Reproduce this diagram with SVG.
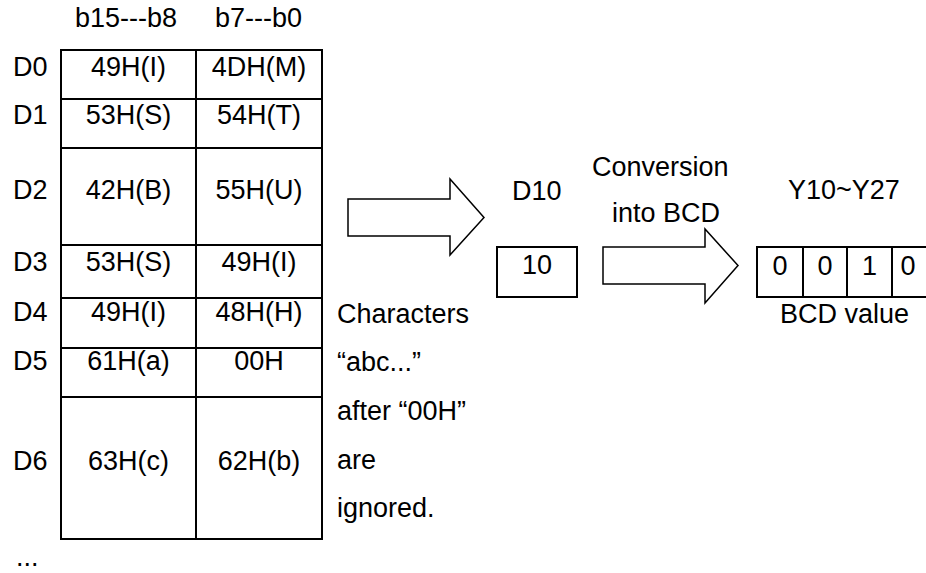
<svg xmlns="http://www.w3.org/2000/svg" width="926" height="573" viewBox="0 0 926 573">
<style>
text{font-family:"Liberation Sans",Arial,sans-serif;font-size:27px;fill:#000}
.c{text-anchor:middle}
.ln{stroke:#000;stroke-width:2;fill:none}
.ar{stroke:#000;stroke-width:1.5;fill:#fff;stroke-linejoin:miter}
</style>
<rect width="926" height="573" fill="#fff"/>
<g id="headers">
<text x="75" y="27">b15---b8</text>
<text x="215" y="27">b7---b0</text>
</g>
<g id="table">
<rect class="ln" x="61" y="50" width="261" height="489"/>
<path class="ln" d="M196 50V539M61 99H322M61 148H322M61 245H322M61 298H322M61 348H322M61 397H322"/>
<text x="13" y="76">D0</text>
<text x="13" y="124">D1</text>
<text x="13" y="199">D2</text>
<text x="13" y="271">D3</text>
<text x="13" y="321">D4</text>
<text x="13" y="370">D5</text>
<text x="13" y="470">D6</text>
<text class="c" x="128.5" y="76">49H(I)</text>
<text class="c" x="259" y="76">4DH(M)</text>
<text class="c" x="128.5" y="124">53H(S)</text>
<text class="c" x="259" y="124">54H(T)</text>
<text class="c" x="128.5" y="199">42H(B)</text>
<text class="c" x="259" y="199">55H(U)</text>
<text class="c" x="128.5" y="271">53H(S)</text>
<text class="c" x="259" y="271">49H(I)</text>
<text class="c" x="128.5" y="321">49H(I)</text>
<text class="c" x="259" y="321">48H(H)</text>
<text class="c" x="128.5" y="370">61H(a)</text>
<text class="c" x="259" y="370">00H</text>
<text class="c" x="128.5" y="470">63H(c)</text>
<text class="c" x="259" y="470">62H(b)</text>
<text x="16" y="566">...</text>
</g>
<g id="note">
<text x="337" y="323">Characters</text>
<text x="337" y="371">“abc...”</text>
<text x="337" y="420">after “00H”</text>
<text x="337" y="469">are</text>
<text x="337" y="517">ignored.</text>
</g>
<g id="connectors">
<polygon class="ar" points="348,199 450,199 450,179 484,217.5 450,255 450,236 348,236"/>
<polygon class="ar" points="603,247 705,247 705,229 738,265.5 705,303 705,284 603,284"/>
</g>
<g id="d10">
<text x="512" y="200">D10</text>
<rect class="ln" x="497" y="247" width="80" height="50"/>
<text class="c" x="537" y="274">10</text>
</g>
<g id="conversion">
<text x="592" y="176">Conversion</text>
<text x="612" y="222">into BCD</text>
</g>
<g id="bcd">
<text x="788" y="199">Y10~Y27</text>
<path class="ln" d="M930 247H757V297H930M803 247V297M847 247V297M892 247V297"/>
<text class="c" x="780" y="275">0</text>
<text class="c" x="825" y="275">0</text>
<text class="c" x="869.5" y="275">1</text>
<text class="c" x="908" y="275">0</text>
<text x="780" y="323">BCD value</text>
</g>
</svg>
